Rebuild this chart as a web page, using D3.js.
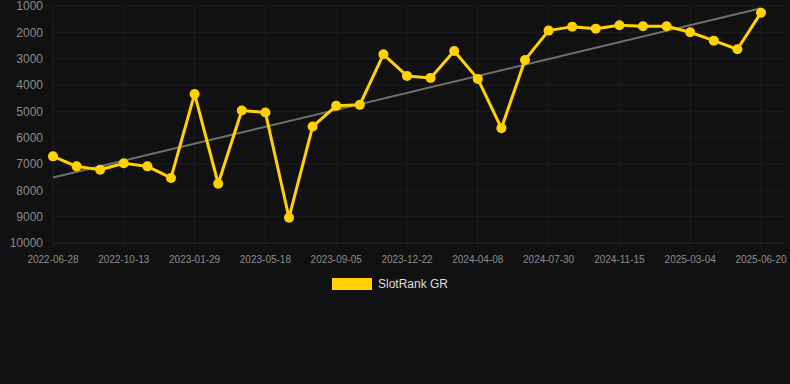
<!DOCTYPE html>
<html>
<head>
<meta charset="utf-8">
<script src="https://cdn.jsdelivr.net/npm/d3@7"></script>
<style>
  html, body { margin: 0; padding: 0; background: #111111; }
  svg { display: block; font-family: "Liberation Sans", Arial, sans-serif; }
</style>
</head>
<body>
<svg id="chart"></svg>
<script>
const width = 790;
const height = 384;

// ranks, one per sample date (31 samples)
const ranks = [6710, 7090, 7220, 6970, 7090, 7530, 4340, 7750, 4970, 5046,
    9040, 5577, 4792, 4754, 2833, 3654, 3730, 2706, 3768, 5639,
    3048, 1935, 1784, 1860, 1733, 1771, 1771, 1998, 2315, 2643, 1253];
// x tick labels, every 3rd sample
const tickLabels = ["2022-06-28", "2022-10-13", "2023-01-29", "2023-05-18", "2023-09-05",
    "2023-12-22", "2024-04-08", "2024-07-30", "2024-11-15", "2025-03-04", "2025-06-20"];
const yTicks = [1000, 2000, 3000, 4000, 5000, 6000, 7000, 8000, 9000, 10000];
const seriesName = "SlotRank GR";

const margin = {top: 6, right: 29, bottom: 141, left: 53};
const plotRight = 785;

const svg = d3.select("#chart")
    .attr("width", width)
    .attr("height", height);

svg.append("rect")
    .attr("width", width)
    .attr("height", height)
    .attr("fill", "#111111");

const x = d3.scalePoint()
    .domain(d3.range(ranks.length))
    .range([margin.left, width - margin.right]);

const y = d3.scaleLinear()
    .domain([1000, 10000])
    .range([margin.top, height - margin.bottom]);

const tickIdx = tickLabels.map((_, i) => i * 3);

// grid
const grid_g = svg.append("g").attr("class", "grid");
grid_g.selectAll(".hg")
    .data(yTicks)
    .join("line")
    .attr("x1", margin.left)
    .attr("x2", plotRight)
    .attr("y1", d => y(d))
    .attr("y2", d => y(d))
    .attr("stroke", d => d === 10000 ? "#2a2a2a" : "#1e1e1e")
    .attr("stroke-width", 1);
grid_g.selectAll(".vg")
    .data(tickIdx)
    .join("line")
    .attr("x1", d => x(d))
    .attr("x2", d => x(d))
    .attr("y1", margin.top)
    .attr("y2", y(10000) + 5)
    .attr("stroke", "#1e1e1e")
    .attr("stroke-width", 1);

// y axis labels
svg.append("g")
    .selectAll("text")
    .data(yTicks)
    .join("text")
    .attr("x", 43)
    .attr("y", d => y(d))
    .attr("dy", "0.35em")
    .attr("text-anchor", "end")
    .attr("fill", "#8c8c8c")
    .attr("font-size", 12)
    .text(d => d);

// x axis labels
svg.append("g")
    .selectAll("text")
    .data(tickIdx)
    .join("text")
    .attr("x", d => x(d))
    .attr("y", 263)
    .attr("text-anchor", "middle")
    .attr("fill", "#8c8c8c")
    .attr("font-size", 10)
    .text((d, i) => tickLabels[i]);

// trend line (least squares on the ranks)
const n = ranks.length;
const mx = d3.mean(d3.range(n));
const my = d3.mean(ranks);
const slope = d3.sum(ranks, (v, i) => (i - mx) * (v - my)) / d3.sum(d3.range(n), i => (i - mx) * (i - mx));
const icept = my - slope * mx;
svg.append("line")
    .attr("x1", x(0))
    .attr("y1", y(icept))
    .attr("x2", x(n - 1))
    .attr("y2", y(icept + slope * (n - 1)))
    .attr("stroke", "#707070")
    .attr("stroke-width", 2);

// series
const lineMaker = d3.line()
    .x((d, i) => x(i))
    .y(d => y(d));

svg.append("path")
    .datum(ranks)
    .attr("d", lineMaker)
    .attr("fill", "none")
    .attr("stroke", "#ffd200")
    .attr("stroke-width", 3)
    .attr("stroke-linejoin", "round");

svg.append("g")
    .selectAll("circle")
    .data(ranks)
    .join("circle")
    .attr("cx", (d, i) => x(i))
    .attr("cy", d => y(d))
    .attr("r", 5)
    .attr("fill", "#ffd200");

// legend
const legend_g = svg.append("g");
legend_g.append("rect")
    .attr("x", 332)
    .attr("y", 278)
    .attr("width", 40)
    .attr("height", 12)
    .attr("fill", "#ffd200");
legend_g.append("text")
    .attr("x", 378)
    .attr("y", 284)
    .attr("dy", "0.35em")
    .attr("fill", "#dddddd")
    .attr("font-size", 12)
    .text(seriesName);
</script>
</body>
</html>
